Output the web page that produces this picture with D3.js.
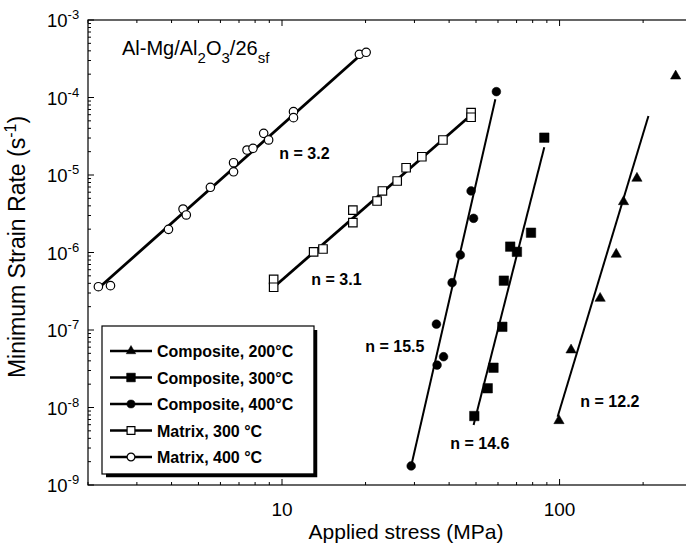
<!DOCTYPE html>
<html>
<head>
<meta charset="utf-8">
<script src="https://cdn.jsdelivr.net/npm/d3@7"></script>
<style>
body { margin: 0; background: #fff; }
svg { font-family: "Liberation Sans", Arial, sans-serif; }
</style>
</head>
<body>
<svg id="chart"></svg>
<script>
/////////////// data ////////////////
const X_DOMAIN = [2, 300];
const Y_DOMAIN = [1e-9, 1e-3];
const X_LABELED = [10, 100];
const Y_EXPONENTS = [-3, -4, -5, -6, -7, -8, -9];

// Matrix, 400 C (open circles)
const matrix400Stress = [2.18, 2.41, 3.90, 4.40, 4.52, 5.52, 6.69, 6.69, 7.48, 7.86, 8.59, 8.95, 11.0, 11.0, 19.0, 20.1];
const matrix400Rate = [3.62e-7, 3.73e-7, 1.99e-6, 3.64e-6, 3.05e-6, 6.94e-6, 1.44e-5, 1.10e-5, 2.10e-5, 2.21e-5, 3.45e-5, 2.83e-5, 6.56e-5, 5.49e-5, 3.61e-4, 3.83e-4];
// Matrix, 300 C (open squares)
const matrix300Stress = [9.33, 9.33, 13.0, 14.05, 18.0, 18.0, 22.0, 23.0, 26.0, 28.0, 31.9, 38.0, 48.0, 48.0];
const matrix300Rate = [4.51e-7, 3.56e-7, 1.02e-6, 1.11e-6, 3.53e-6, 2.43e-6, 4.62e-6, 6.22e-6, 8.37e-6, 1.24e-5, 1.72e-5, 2.83e-5, 6.37e-5, 5.56e-5];
// Composite, 400 C (filled circles)
const comp400Stress = [59.2, 48.0, 49.0, 43.9, 41.0, 36.0, 38.2, 36.2, 29.2];
const comp400Rate = [1.19e-4, 6.22e-6, 2.76e-6, 9.29e-7, 4.08e-7, 1.19e-7, 4.52e-8, 3.53e-8, 1.76e-9];
// Composite, 300 C (filled squares)
const comp300Stress = [88.1, 78.9, 66.4, 70.2, 63.0, 62.2, 57.8, 55.1, 49.3];
const comp300Rate = [3.03e-5, 1.80e-6, 1.19e-6, 1.02e-6, 4.33e-7, 1.10e-7, 3.26e-8, 1.77e-8, 7.76e-9];
// Composite, 200 C (filled triangles)
const comp200Stress = [262, 190, 170, 160, 140, 110, 99.5];
const comp200Rate = [1.89e-4, 9.06e-6, 4.52e-6, 9.48e-7, 2.56e-7, 5.52e-8, 6.76e-9];

// power-law fit lines: end points [stress, rate]
const matrix400Fit = [[2.18, 3.45e-7], [20.1, 4.10e-4]];
const matrix300Fit = [[9.33, 3.56e-7], [48.0, 5.95e-5]];
const comp400Fit = [[29.2, 1.76e-9], [58.7, 9.48e-5]];
const comp300Fit = [[49.0, 5.94e-9], [88.1, 2.28e-5]];
const comp200Fit = [[98.4, 7.6e-9], [209, 5.77e-5]];

// stress exponent labels, anchored at [stress, rate]
const nLabels = ["n = 3.2", "n = 3.1", "n = 15.5", "n = 14.6", "n = 12.2"];
const nLabelAt = [[9.78, 1.61e-5], [12.75, 3.81e-7], [19.95, 5.2e-8], [40.4, 2.92e-9], [118.8, 1.01e-8]];

const legendNames = ["Composite, 200\u00B0C", "Composite, 300\u00B0C", "Composite, 400\u00B0C", "Matrix, 300 \u00B0C", "Matrix, 400 \u00B0C"];

/////////////// layout ////////////////
const W = 686, H = 548;
const PLOT_L = 88, PLOT_R = 692, PLOT_T = 20, PLOT_B = 485;
const MAJ_TK = 6, MIN_TK = 3;

const SVG = d3.select("#chart").attr("width", W).attr("height", H);

const X = d3.scaleLog().domain(X_DOMAIN).range([PLOT_L, PLOT_R]);
const Y = d3.scaleLog().domain(Y_DOMAIN).range([PLOT_B, PLOT_T]);

/////////////// axes ////////////////
const AXES_GRP = SVG.append("g").attr("id", "axesGroup");
AXES_GRP.append("rect")
    .attr("x", PLOT_L).attr("y", PLOT_T)
    .attr("width", PLOT_R - PLOT_L).attr("height", PLOT_B - PLOT_T)
    .attr("fill", "none").attr("stroke", "#000").attr("stroke-width", 1.2);

// x ticks (log minor ticks on bottom and top)
const xTickVals = X.ticks().filter(d => d >= X_DOMAIN[0] && d <= X_DOMAIN[1]);
xTickVals.forEach(d => {
    const isMaj = X_LABELED.includes(d);
    const len = isMaj ? MAJ_TK : MIN_TK;
    AXES_GRP.append("line")
        .attr("x1", X(d)).attr("x2", X(d))
        .attr("y1", PLOT_B).attr("y2", PLOT_B - len)
        .attr("stroke", "#000").attr("stroke-width", 1);
    AXES_GRP.append("line")
        .attr("x1", X(d)).attr("x2", X(d))
        .attr("y1", PLOT_T).attr("y2", PLOT_T + len)
        .attr("stroke", "#000").attr("stroke-width", 1);
});
AXES_GRP.selectAll("text.xtick")
    .data(X_LABELED)
    .enter()
    .append("text")
    .attr("class", "xtick")
    .attr("x", d => X(d))
    .attr("y", 516)
    .attr("text-anchor", "middle")
    .attr("font-size", 19)
    .text(d => d);

// y ticks (decades + minor)
const yTickVals = Y.ticks();
yTickVals.forEach(d => {
    const isMaj = Math.abs(Math.log10(d) - Math.round(Math.log10(d))) < 1e-6;
    const len = isMaj ? MAJ_TK : MIN_TK;
    AXES_GRP.append("line")
        .attr("x1", PLOT_L).attr("x2", PLOT_L + len)
        .attr("y1", Y(d)).attr("y2", Y(d))
        .attr("stroke", "#000").attr("stroke-width", 1);
    AXES_GRP.append("line")
        .attr("x1", PLOT_R).attr("x2", PLOT_R - len)
        .attr("y1", Y(d)).attr("y2", Y(d))
        .attr("stroke", "#000").attr("stroke-width", 1);
});
const yLab = AXES_GRP.selectAll("text.ytick")
    .data(Y_EXPONENTS)
    .enter()
    .append("text")
    .attr("class", "ytick")
    .attr("x", 47)
    .attr("y", d => Y(Math.pow(10, d)) + 7)
    .attr("font-size", 18.5);
yLab.append("tspan").text("10");
yLab.append("tspan")
    .attr("dy", -8)
    .attr("font-size", 13)
    .text(d => d);

// axis titles
SVG.append("text")
    .attr("x", 406).attr("y", 539)
    .attr("text-anchor", "middle")
    .attr("font-size", 21)
    .text("Applied stress (MPa)");
const yTitle = SVG.append("text")
    .attr("transform", `translate(25, 247) rotate(-90)`)
    .attr("text-anchor", "middle")
    .attr("font-size", 23);
yTitle.append("tspan").text("Minimum Strain Rate (s");
yTitle.append("tspan").attr("dy", -9).attr("font-size", 16).text("-1");
yTitle.append("tspan").attr("dy", 9).text(")");

// material label
const mat = SVG.append("text")
    .attr("x", 122).attr("y", 55)
    .attr("font-size", 20);
mat.append("tspan").text("Al-Mg/Al");
mat.append("tspan").attr("dy", 8).attr("font-size", 15).text("2");
mat.append("tspan").attr("dy", -8).text("O");
mat.append("tspan").attr("dy", 8).attr("font-size", 15).text("3");
mat.append("tspan").attr("dy", -8).text("/26");
mat.append("tspan").attr("dy", 8).attr("font-size", 15).text("sf");

/////////////// series ////////////////
const series = [
    { stress: comp200Stress, rate: comp200Rate, fit: comp200Fit, shape: d3.symbolTriangle, size: 46, open: false, lw: 2 },
    { stress: comp300Stress, rate: comp300Rate, fit: comp300Fit, shape: d3.symbolSquare, size: 90, open: false, lw: 2 },
    { stress: comp400Stress, rate: comp400Rate, fit: comp400Fit, shape: d3.symbolCircle, size: 60, open: false, lw: 2 },
    { stress: matrix300Stress, rate: matrix300Rate, fit: matrix300Fit, shape: d3.symbolSquare, size: 72, open: true, lw: 2.8 },
    { stress: matrix400Stress, rate: matrix400Rate, fit: matrix400Fit, shape: d3.symbolCircle, size: 56, open: true, lw: 2.8 }
];
const LINE = d3.line().x(d => X(d[0])).y(d => Y(d[1]));
const DATA_GRP = SVG.append("g").attr("id", "dataGroup");
series.forEach(s => {
    DATA_GRP.append("path")
        .attr("d", LINE(s.fit))
        .attr("fill", "none")
        .attr("stroke", "#000")
        .attr("stroke-width", s.lw);
    DATA_GRP.append("g")
        .selectAll("path")
        .data(d3.range(s.stress.length))
        .enter()
        .append("path")
        .attr("transform", i => `translate(${X(s.stress[i])}, ${Y(s.rate[i])})`)
        .attr("d", d3.symbol().type(s.shape).size(s.size))
        .attr("fill", s.open ? "#fff" : "#000")
        .attr("stroke", "#000")
        .attr("stroke-width", s.open ? 1.2 : 0.5);
});

// n labels
DATA_GRP.selectAll("text.nlab")
    .data(nLabels)
    .enter()
    .append("text")
    .attr("class", "nlab")
    .attr("x", (d, i) => X(nLabelAt[i][0]))
    .attr("y", (d, i) => Y(nLabelAt[i][1]))
    .attr("font-size", 16)
    .attr("font-weight", "bold")
    .text(d => d);

/////////////// legend ////////////////
const LEG_X = 102, LEG_Y = 326, LEG_W = 212, LEG_H = 148;
const LEG_GRP = SVG.append("g").attr("id", "legendGroup");
LEG_GRP.append("rect")
    .attr("x", LEG_X).attr("y", LEG_Y)
    .attr("width", LEG_W).attr("height", LEG_H)
    .attr("fill", "#fff").attr("stroke", "#000").attr("stroke-width", 1.2);
// drop shadow on right and bottom
LEG_GRP.append("path")
    .attr("d", `M${LEG_X + 4},${LEG_Y + LEG_H + 1.5} H${LEG_X + LEG_W + 1.5} V${LEG_Y + 4}`)
    .attr("fill", "none").attr("stroke", "#000").attr("stroke-width", 3.5);
const ROW0 = 351, ROW_DY = 26.5;
series.forEach((s, i) => {
    const y = ROW0 + i * ROW_DY;
    LEG_GRP.append("line")
        .attr("x1", 110).attr("x2", 152)
        .attr("y1", y).attr("y2", y)
        .attr("stroke", "#000").attr("stroke-width", 2.6);
    LEG_GRP.append("path")
        .attr("transform", `translate(131, ${y})`)
        .attr("d", d3.symbol().type(s.shape).size(s.size * 0.85))
        .attr("fill", s.open ? "#fff" : "#000")
        .attr("stroke", "#000")
        .attr("stroke-width", s.open ? 1.2 : 0.5);
    LEG_GRP.append("text")
        .attr("x", 157).attr("y", y + 6)
        .attr("font-size", 16)
        .attr("font-weight", "bold")
        .text(legendNames[i]);
});
</script>
</body>
</html>
